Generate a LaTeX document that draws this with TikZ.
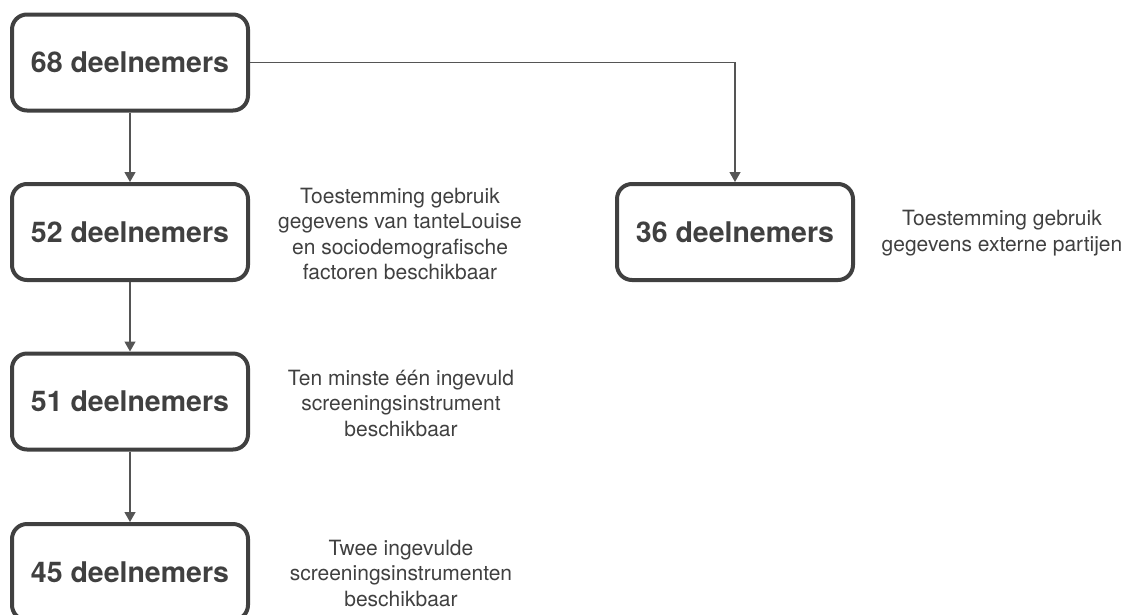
\documentclass[tikz,border=0pt]{standalone}
\usepackage{fontspec}
\setmainfont{TeX Gyre Heros}
\usetikzlibrary{arrows.meta}
\definecolor{ink}{HTML}{404040}
\definecolor{wire}{HTML}{555555}
\tikzset{
  countbox/.style={draw=ink, line width=4pt, rounded corners=15pt,
    minimum width=236pt, minimum height=96pt, inner sep=0pt,
    text=ink, font=\fontsize{28.5pt}{34pt}\selectfont\bfseries},
  note/.style={align=center, text=ink, inner sep=0pt,
    font=\fontsize{21pt}{25.5pt}\selectfont},
  flow/.style={draw=wire, line width=1.3pt, -{Triangle[width=11pt,length=10pt]}}
}
\begin{document}
\begin{tikzpicture}[x=1pt,y=-1pt]
\useasboundingbox (0,0) rectangle (1135,614);
\clip (0,0) rectangle (1135,614);

\node[countbox] (b68) at (130,62.5) {68 deelnemers};
\node[countbox] (b52) at (130,232) {52 deelnemers};
\node[countbox] (b51) at (130,401.5) {51 deelnemers};
\node[countbox] (b45) at (130,572) {45 deelnemers};
\node[countbox] (b36) at (735,232) {36 deelnemers};

\node[note] (n52) at (400,234) {Toestemming gebruik\\gegevens van tanteLouise\\en sociodemografische\\factoren beschikbaar};
\node[note] (n51) at (401,403) {Ten minste één ingevuld\\screeningsinstrument\\beschikbaar};
\node[note] (n45) at (401,573) {Twee ingevulde\\screeningsinstrumenten\\beschikbaar};
\node[note] (n36) at (1002,233) {Toestemming gebruik\\gegevens externe partijen};

\draw[flow] (b68) -- (b52);
\draw[flow] (b52) -- (b51);
\draw[flow] (b51) -- (b45);
\draw[flow] (b68.east) -| (b36.north);
\end{tikzpicture}
\end{document}
